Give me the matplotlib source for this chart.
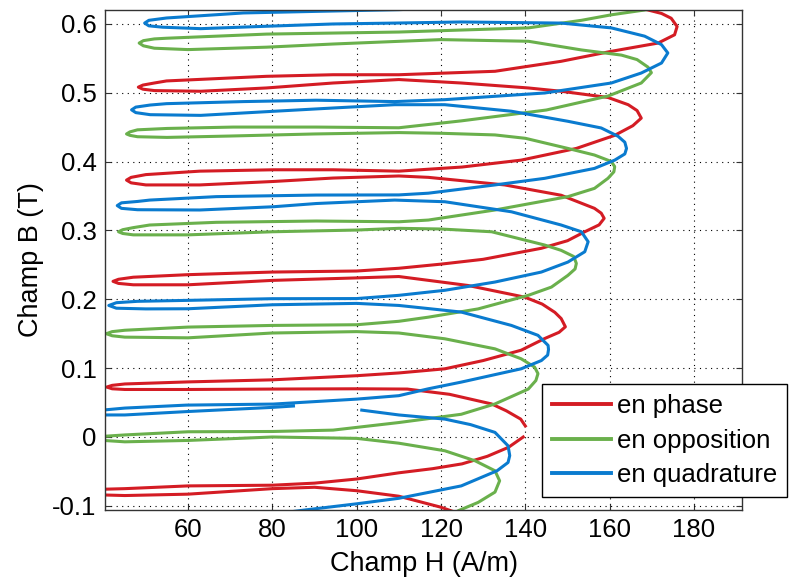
import numpy as np
import matplotlib.pyplot as plt
from matplotlib.ticker import FormatStrFormatter
from matplotlib.lines import Line2D

# Points : (H en A/m, B en T)
# chaque courbe = deux morceaux (le cycle n'est pas refermé)
red_seg1 = [(126, -0.115), (120, -0.102), (110, -0.086), (100, -0.078), (90, -0.073),
            (80, -0.075), (60, -0.083), (45, -0.085), (39, -0.084), (36.5, -0.080),
            (39, -0.076), (45, -0.075), (60, -0.071), (80, -0.070), (90, -0.067),
            (100, -0.061), (110, -0.052), (118, -0.046), (125, -0.039), (131, -0.028),
            (136, -0.015), (139.5, 0.0)]
red_seg2 = [(140, 0.016), (138.9, 0.026), (135.5, 0.038), (132, 0.048), (122, 0.062),
            (112, 0.0696), (100, 0.070), (80, 0.0696), (60, 0.069), (45, 0.069),
            (42, 0.070), (40.7, 0.0725), (42, 0.075), (45, 0.077), (60, 0.080),
            (80, 0.083), (100, 0.089), (110, 0.093), (120.9, 0.099), (130, 0.111),
            (139, 0.126), (144.6, 0.143), (148, 0.152), (149.5, 0.160), (148.5, 0.172),
            (147, 0.181), (144, 0.193), (139.9, 0.203), (126.4, 0.220), (110, 0.233),
            (100, 0.231), (80, 0.2274), (60, 0.221), (47, 0.221), (43.5, 0.223),
            (42.2, 0.226), (43.5, 0.229), (47, 0.232), (60, 0.2357), (80, 0.2395),
            (100, 0.241), (110, 0.245), (120, 0.251), (130, 0.258), (143.8, 0.274),
            (150, 0.285), (154.1, 0.298), (157.5, 0.308), (158.7, 0.3175), (158, 0.325),
            (156.4, 0.332), (148.5, 0.351), (135.1, 0.366), (117, 0.377), (110, 0.379),
            (94.4, 0.376), (80.2, 0.371), (62.8, 0.366), (50, 0.366), (46.5, 0.369),
            (45.4, 0.373), (46.5, 0.377), (50, 0.381), (62.8, 0.386), (80.2, 0.388),
            (94.4, 0.388), (110, 0.386), (125, 0.392), (139, 0.402), (152.1, 0.419),
            (161.2, 0.438), (165.5, 0.452), (167.5, 0.463), (166.5, 0.474), (164.4, 0.4825),
            (159.6, 0.493), (148.5, 0.502), (140.7, 0.5068), (124.8, 0.514), (110, 0.519),
            (94.4, 0.514), (78.6, 0.5068), (63, 0.502), (52, 0.503), (49.3, 0.505),
            (48.2, 0.508), (49.3, 0.511), (52, 0.514), (54.9, 0.517), (78.6, 0.5237),
            (94.4, 0.526), (110, 0.526), (132.8, 0.531), (148.5, 0.5455), (160.4, 0.560),
            (171.5, 0.572), (175.4, 0.584), (176, 0.596), (174.6, 0.608), (172.3, 0.615),
            (169.1, 0.620), (165, 0.626)]

green_seg1 = [(122, -0.115), (124.1, -0.107), (128.8, -0.095), (132.8, -0.080), (133.9, -0.0636),
              (132.8, -0.049), (128.1, -0.0346), (120.9, -0.020), (110, -0.009), (100, -0.002),
              (80, 0.0), (60, -0.005), (45, -0.007), (40, -0.005), (38, -0.002),
              (40, 0.001), (45, 0.003), (60, 0.0076), (80, 0.008), (94.4, 0.010),
              (110, 0.021), (124.8, 0.033), (132.8, 0.048), (140.7, 0.0696), (142.5, 0.082),
              (143, 0.092), (142.2, 0.1015), (139, 0.1136), (132.8, 0.128), (120.9, 0.1426),
              (110, 0.151), (100, 0.153), (80, 0.151), (60, 0.144), (45, 0.145),
              (42, 0.147), (40.6, 0.150), (42, 0.153), (45, 0.155), (60, 0.1596),
              (80, 0.162), (100, 0.163), (110, 0.168), (117, 0.174), (128.8, 0.186),
              (140.7, 0.2057), (146.2, 0.2177), (150.1, 0.2347), (151.8, 0.244), (152.1, 0.252),
              (151.5, 0.262), (148.5, 0.271), (144.6, 0.2787), (132, 0.298), (120, 0.302),
              (110, 0.303), (100, 0.3005), (80, 0.298), (60, 0.2935), (47, 0.2935),
              (44.5, 0.2955), (43.5, 0.298), (44.5, 0.301), (47, 0.304), (50.9, 0.3078),
              (66.7, 0.3117), (90.4, 0.3136), (110, 0.3125), (117, 0.315), (132.8, 0.3296),
              (150.1, 0.349), (156.4, 0.361), (159.6, 0.3756), (161, 0.385), (161.2, 0.3925),
              (160.4, 0.400), (156.4, 0.4094), (150.1, 0.419), (140, 0.4337), (132.8, 0.4386),
              (120, 0.441), (110, 0.442), (90, 0.440), (70, 0.437), (55, 0.435),
              (48, 0.436), (46.2, 0.438), (45.4, 0.440), (46.2, 0.443), (48, 0.446),
              (55, 0.448), (70.7, 0.450), (90.4, 0.450), (110, 0.449), (124.8, 0.459),
              (145, 0.4748), (159.6, 0.495), (167.5, 0.514), (169.9, 0.529), (169.1, 0.537),
              (166.5, 0.548), (162.8, 0.5545), (153.3, 0.562), (140.7, 0.5746), (120, 0.577),
              (110, 0.5745), (94.4, 0.5706), (78.6, 0.566), (60, 0.5625), (52, 0.5645),
              (49.4, 0.568), (48.4, 0.572), (49.4, 0.5755), (52, 0.578), (54.9, 0.579),
              (78.6, 0.585), (110, 0.588), (140.7, 0.594), (153.3, 0.605), (160.4, 0.613),
              (168.3, 0.620), (173, 0.626)]

blue_seg1 = [(80, -0.112), (87.7, -0.106), (100, -0.097), (110, -0.089), (124.8, -0.071),
             (133.3, -0.049), (135.9, -0.037), (136.3, -0.027), (135.9, -0.0128), (132.8, 0.0067),
             (127, 0.018), (120.9, 0.026), (110, 0.032), (101.2, 0.039)]
blue_seg2 = [(85, 0.045), (80, 0.043), (60, 0.037), (45, 0.032), (40.5, 0.032),
             (38.5, 0.036), (40.5, 0.0395), (45, 0.042), (59.6, 0.0463), (80.2, 0.0478),
             (100, 0.055), (110, 0.060), (117, 0.070), (124.8, 0.0797), (139, 0.099),
             (143.8, 0.111), (145.3, 0.119), (145.5, 0.127), (145.4, 0.133), (143, 0.1476),
             (136.7, 0.162), (124.8, 0.1814), (110, 0.191), (100, 0.194), (80, 0.192),
             (60, 0.1862), (50, 0.186), (43, 0.187), (41.2, 0.191), (43, 0.195),
             (48, 0.197), (60, 0.1984), (80, 0.2008), (100, 0.201), (110, 0.2057),
             (120.9, 0.213), (132.8, 0.225), (143.8, 0.2395), (150.1, 0.254), (154.1, 0.269),
             (154.9, 0.2835), (153.3, 0.298), (148.5, 0.3078), (136.7, 0.327), (120.9, 0.3416),
             (109, 0.344), (90.4, 0.339), (80.2, 0.3343), (62.8, 0.3296), (48, 0.330),
             (44.2, 0.332), (43.2, 0.336), (44.2, 0.340), (48, 0.342), (50.9, 0.344),
             (66.7, 0.349), (90.4, 0.3513), (110, 0.3515), (117, 0.354), (132.8, 0.366),
             (144.6, 0.3756), (156.4, 0.390), (161.2, 0.402), (163.6, 0.411), (164, 0.419),
             (163.6, 0.428), (162, 0.4366), (158, 0.4487), (150.1, 0.4584), (136.7, 0.473),
             (120.9, 0.4825), (109, 0.4825), (94.4, 0.4777), (80.2, 0.4729), (63, 0.467),
             (51, 0.468), (47.6, 0.471), (46.6, 0.475), (47.6, 0.479), (51, 0.482),
             (54.9, 0.484), (73.1, 0.487), (90.4, 0.489), (109, 0.487), (120.9, 0.4898),
             (132.8, 0.4947), (144.6, 0.4995), (160.4, 0.514), (167.5, 0.5285), (172.3, 0.543),
             (173.8, 0.5576), (172.3, 0.5697), (168.3, 0.582), (160.4, 0.594), (148.5, 0.601),
             (124.8, 0.6026), (109, 0.601), (94.4, 0.5997), (78.6, 0.5964), (63, 0.5929),
             (54, 0.595), (50.7, 0.597), (49.7, 0.601), (50.7, 0.605), (54.9, 0.6084),
             (73.1, 0.6157), (90.4, 0.618), (110, 0.6205), (130, 0.626)]

labels = ['en phase', 'en opposition', 'en quadrature']
colors = ['#d41c24', '#6ab04c', '#0a7bcf']
curves = [[red_seg1, red_seg2], [green_seg1], [blue_seg1, blue_seg2]]

xticks = [60, 80, 100, 120, 140, 160, 180]
yticks = [-0.1, 0, 0.1, 0.2, 0.3, 0.4, 0.5, 0.6]

plt.rcParams['font.family'] = ['Liberation Sans', 'DejaVu Sans']
plt.rcParams['axes.unicode_minus'] = False

fig = plt.figure(figsize=(7.92, 5.81), dpi=100)
ax = fig.add_axes([0.1326, 0.1222, 0.8043, 0.8606])

for segs, col in zip(curves, colors):
    for seg in segs:
        h, b = np.array(seg).T
        ax.plot(h, b, color=col, linewidth=2.2)

ax.set_xlim(40.3, 191.4)
ax.set_ylim(-0.106, 0.620)
ax.set_xticks(xticks)
ax.set_yticks(yticks)
ax.yaxis.set_major_formatter(FormatStrFormatter('%g'))
ax.grid(True, linestyle=(0, (1, 4)), color='k', linewidth=0.8)
ax.tick_params(direction='in', top=True, right=True, labelsize=18.5, length=4, pad=6,
               color='#333333')
for s in ax.spines.values():
    s.set_color('#333333')
    s.set_linewidth(1.0)

ax.set_xlabel('Champ H (A/m)', fontsize=19.5, labelpad=6)
ax.set_ylabel('Champ B (T)', fontsize=19.5, labelpad=6)

handles = [Line2D([], [], color=c, linewidth=2.8) for c in colors]
leg = fig.legend(handles, labels, loc='upper left', bbox_to_anchor=(542 / 792, 1 - 384 / 581),
                 fontsize=18.5, frameon=True, fancybox=False, framealpha=1, edgecolor='k',
                 handlelength=2.3, handletextpad=0.25, labelspacing=0.42, borderpad=0.38,
                 borderaxespad=0)
leg.get_frame().set_linewidth(1.0)

fig.savefig('out.png', dpi=100)
